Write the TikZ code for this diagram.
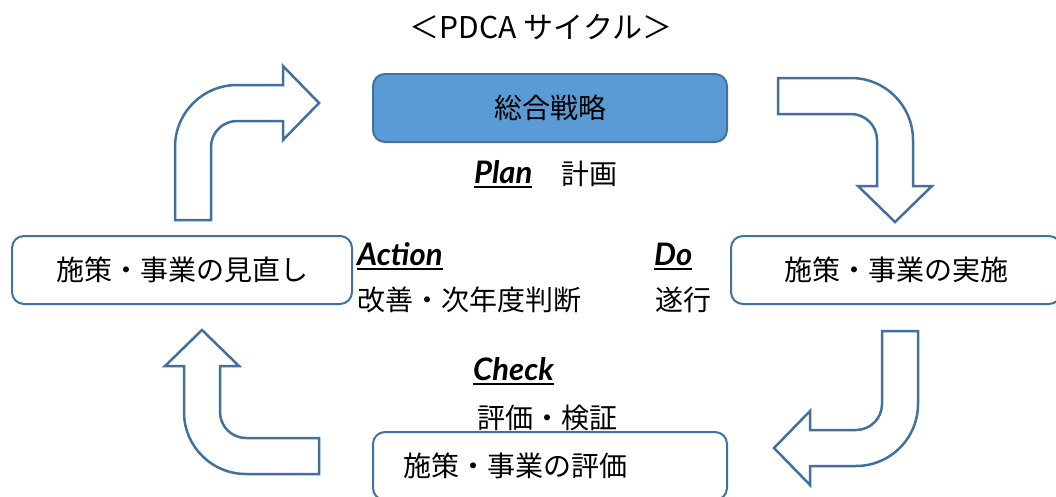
\documentclass[tikz,border=0pt]{standalone}
\usepackage{fontspec}
\setmainfont{Noto Sans CJK JP}
\newfontfamily\latfont{Lato}
\usepackage{tikz}
\definecolor{pdcaline}{RGB}{65,113,156}
\definecolor{planfill}{RGB}{91,155,213}
\newsavebox{\pdcabox}
\newcommand{\pdcaword}[1]{\sbox{\pdcabox}{\latfont\fontsize{31}{34}\selectfont\bfseries\itshape #1}\rlap{\rule[-5pt]{\wd\pdcabox}{2pt}}\usebox{\pdcabox}}

\begin{document}
\begin{tikzpicture}[x=1pt,y=-1pt,
	every node/.style={font=\fontsize{28}{32}\selectfont},
	box/.style={draw=pdcaline,line width=2pt,rounded corners=12pt,fill=white,minimum height=68pt,inner sep=0pt},
	bendarrow/.style={draw=pdcaline,line width=2.5pt,fill=white},
	lbl/.style={anchor=west,inner sep=0pt}]
	\useasboundingbox (0,0) rectangle (1056,496);
	\clip (0,0) rectangle (1056,496);
	
	\node[font=\fontsize{30}{34}\selectfont] (title) at (541,27) {＜PDCA サイクル＞};
	
	% the four boxes
	\node[box,fill=planfill,minimum width=354pt] (plan) at (550,108) {総合戦略};
	\node[box,minimum width=330pt] (do) at (896,270) {施策・事業の実施};
	\node[box,minimum width=354pt,text width=294pt,inner xsep=30pt,align=left] (check) at (550,466) {施策・事業の評価};
	\node[box,minimum width=340pt] (act) at (182,270) {施策・事業の見直し};
	
	% labels
	\node[lbl,anchor=base west] (planword) at (474,183) {\pdcaword{Plan}};
	\node[lbl] (plantext) at (561,174) {計画};
	\node[lbl,anchor=base west] (doword) at (654,265) {\pdcaword{Do}};
	\node[lbl] (dotext) at (655,300) {遂行};
	\node[lbl,anchor=base west] (checkword) at (473,380) {\pdcaword{Check}};
	\node[lbl] (checktext) at (477,418) {評価・検証};
	\node[lbl,anchor=base west] (actword) at (357,265) {\pdcaword{Action}};
	\node[lbl] (acttext) at (357,300) {改善・次年度判断};
	
	% bent block arrows
	\foreach \cx/\cy/\rot in {237/147/0, 851/140/-90, 856/404/-180, 246/412/-270}{
		\begin{scope}[shift={(\cx,\cy)},rotate=\rot]
			\draw[bendarrow] (-62,73) -- (-62,0) arc[start angle=180,end angle=270,radius=62]
				-- (46,-62) -- (46,-81) -- (82,-44) -- (46,-7) -- (46,-26)
				-- (0,-26) arc[start angle=270,end angle=180,radius=26] -- (-26,73) -- cycle;
		\end{scope}
	}
\end{tikzpicture}
\end{document}
